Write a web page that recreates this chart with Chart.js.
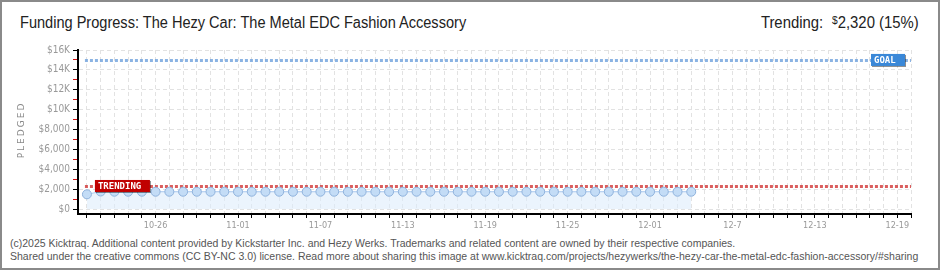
<!DOCTYPE html>
<html>
<head>
<meta charset="utf-8">
<script src="https://cdn.jsdelivr.net/npm/chart.js@4"></script>
<style>
  body { margin: 0; background: #fff; }
  #frame { position: relative; width: 940px; height: 270px; box-sizing: border-box; border: 2px solid #8a8a8a; overflow: hidden; font-family: 'Liberation Sans', sans-serif; }
  #titulo { position: absolute; left: 18px; top: 12px; font-size: 16px; color: #222; white-space: nowrap; transform-origin: left top; transform: scaleX(0.91); }
  #tendencia { position: absolute; right: 19px; top: 12px; font-size: 16px; color: #222; white-space: nowrap; transform-origin: right top; transform: scaleX(0.93); }
  #tendencia .pesos { font-size: 11px; vertical-align: 4px; margin-left: 5px; }
  #pie { position: absolute; left: 8px; top: 235px; font-family: 'Liberation Sans', sans-serif; font-size: 10.5px; line-height: 13px; color: #555; white-space: nowrap; }
  #grafico { position: absolute; left: -2px; top: 37px; }
</style>
</head>
<body>
<div id="frame">
  <div id="titulo">Funding Progress: The Hezy Car: The Metal EDC Fashion Accessory</div>
  <div id="tendencia">Trending: <span class="pesos">$</span>2,320 (15%)</div>
  <canvas id="grafico" width="940" height="192"></canvas>
  <div id="pie">(c)2025 Kicktraq. Additional content provided by Kickstarter Inc. and Hezy Werks. Trademarks and related content are owned by their respective companies.<br>Shared under the creative commons (CC BY-NC 3.0) license. Read more about sharing this image at www.kicktraq.com/projects/hezywerks/the-hezy-car-the-metal-edc-fashion-accessory/#sharing</div>
</div>
<script>
// Datos: dias desde 10-21 y monto recaudado
const diasDatos = [0,1,2,3,4,5,6,7,8,9,10,11,12,13,14,15,16,17,18,19,20,21,22,23,24,25,26,27,28,29,30,31,32,33,34,35,36,37,38,39,40,41,42,43,44];
const montoRecaudado = [1480,1760,1740,1740,1740,1740,1740,1740,1740,1740,1740,1740,1740,1740,1740,1740,1740,1740,1740,1740,1740,1740,1740,1740,1740,1740,1740,1740,1740,1740,1740,1740,1740,1740,1740,1740,1740,1740,1740,1740,1740,1740,1740,1740,1740];
const metaMonto = 15000;
const tendenciaMonto = 2320;

// Etiquetas del eje x (dia -> texto)
const diasEtiquetas = [5, 11, 17, 23, 29, 35, 41, 47, 53, 59];
const textoEtiquetas = ['10-26', '11-01', '11-07', '11-13', '11-19', '11-25', '12-01', '12-7', '12-13', '12-19'];
const diaFinal = 60;

// Etiquetas del eje y
const valoresY = [0, 1000, 2000, 3000, 4000, 5000, 6000, 7000, 8000, 9000, 10000, 11000, 12000, 13000, 14000, 15000, 16000];
const textoY = ['$0', '', '$2,000', '', '$4,000', '', '$6,000', '', '$8,000', '', '$10K', '', '$12K', '', '$14K', '', '$16K'];
const tituloY = 'PLEDGED';

// Lineas de meta y tendencia con su etiqueta
const lineasReferencia = {
    id: 'lineasReferencia',
    beforeDatasetsDraw(chart) {
        const { ctx, chartArea, scales } = chart;
        const x0 = scales.x.getPixelForValue(0);
        const dibujarLinea = (valor, color) => {
            const y = Math.round(scales.y.getPixelForValue(valor)) + 0.5;
            ctx.save();
            ctx.strokeStyle = color;
            ctx.lineWidth = 3;
            ctx.setLineDash([3, 2]);
            ctx.beginPath();
            ctx.moveTo(x0 - 2, y);
            ctx.lineTo(chartArea.right, y);
            ctx.stroke();
            ctx.restore();
        };
        dibujarLinea(metaMonto, 'rgba(110, 160, 220, 0.8)');
        dibujarLinea(tendenciaMonto, 'rgba(205, 40, 40, 0.75)');
    },
    afterDatasetsDraw(chart) {
        const { ctx, chartArea, scales } = chart;
        const etiqueta = (texto, x, valor, ancho, fondo) => {
            const y = scales.y.getPixelForValue(valor);
            ctx.save();
            ctx.fillStyle = 'rgba(0,0,0,0.45)';
            ctx.fillRect(x + 1, y - 5, ancho, 12);
            ctx.fillStyle = fondo;
            ctx.fillRect(x, y - 6, ancho, 12);
            ctx.fillStyle = '#fff';
            ctx.font = 'bold 9px "DejaVu Sans Mono", monospace';
            ctx.textBaseline = 'middle';
            ctx.fillText(texto, x + 3, y + 0.5);
            ctx.restore();
        };
        etiqueta('TRENDING', scales.x.getPixelForValue(0) + 8, tendenciaMonto, 55, '#c00000');
        etiqueta('GOAL', chartArea.right - 40, metaMonto, 34, '#3a88d8');
    },
    afterDraw(chart) {
        // titulo del eje y con espaciado de letras
        const { ctx, chartArea } = chart;
        ctx.save();
        ctx.translate(22, (chartArea.top + chartArea.bottom) / 2 - 1);
        ctx.rotate(-Math.PI / 2);
        ctx.letterSpacing = '2px';
        ctx.font = '9px "DejaVu Sans"';
        ctx.fillStyle = '#888';
        ctx.textAlign = 'center';
        ctx.textBaseline = 'middle';
        ctx.fillText(tituloY, 1, 0);
        ctx.restore();
    }
};

const ctx = document.getElementById('grafico').getContext('2d');
new Chart(ctx, {
    type: 'line',
    data: {
        datasets: [{
            label: 'Pledged',
            data: diasDatos.map((d, i) => ({ x: d, y: montoRecaudado[i] })),
            borderColor: '#a9c9ee',
            borderWidth: 1,
            backgroundColor: 'rgba(222, 236, 251, 0.6)',
            fill: 'origin',
            pointRadius: 4.5,
            pointBackgroundColor: '#c3dcf6',
            pointBorderColor: '#8fb2dc',
            pointBorderWidth: 1,
            tension: 0
        }]
    },
    options: {
        animation: false,
        responsive: false,
        plugins: { legend: { display: false }, tooltip: { enabled: false } },
        layout: { padding: { left: 0, right: 29, top: 11, bottom: 0 } },
        scales: {
            x: {
                type: 'linear',
                min: -0.65,
                max: diaFinal,
                afterBuildTicks: (scale) => {
                    scale.ticks = [];
                    for (let d = 0; d <= diaFinal; d++) scale.ticks.push({ value: d });
                },
                afterFit: (scale) => { scale.height = 17; },
                grid: { color: '#e2e2e2', tickColor: '#000', tickLength: 4 },
                border: { color: '#000', width: 2, dash: [4, 3] },
                ticks: {
                    autoSkip: false,
                    maxRotation: 0,
                    padding: 2,
                    color: '#999',
                    font: { family: 'DejaVu Sans Condensed', size: 9 },
                    callback: (v) => {
                        const i = diasEtiquetas.indexOf(v);
                        return i >= 0 ? textoEtiquetas[i] : '';
                    }
                }
            },
            y: {
                min: -500,
                max: 16000,
                afterBuildTicks: (scale) => {
                    scale.ticks = valoresY.map(v => ({ value: v }));
                },
                afterFit: (scale) => { scale.width = 78; },
                grid: {
                    color: (c) => (c.tick && c.tick.value % 2000 === 0) ? '#e2e2e2' : 'rgba(0,0,0,0)',
                    tickColor: (c) => (c.tick && c.tick.value % 2000 === 0) ? '#000' : '#d01010',
                    tickLength: 5
                },
                border: { color: '#000', width: 2, dash: [4, 3] },
                ticks: {
                    autoSkip: false,
                    padding: 3,
                    color: '#999',
                    font: { family: 'DejaVu Sans Condensed', size: 10 },
                    callback: (v) => {
                        const i = valoresY.indexOf(v);
                        return i >= 0 ? textoY[i] : '';
                    }
                }
            }
        }
    },
    plugins: [lineasReferencia]
});
</script>
</body>
</html>
